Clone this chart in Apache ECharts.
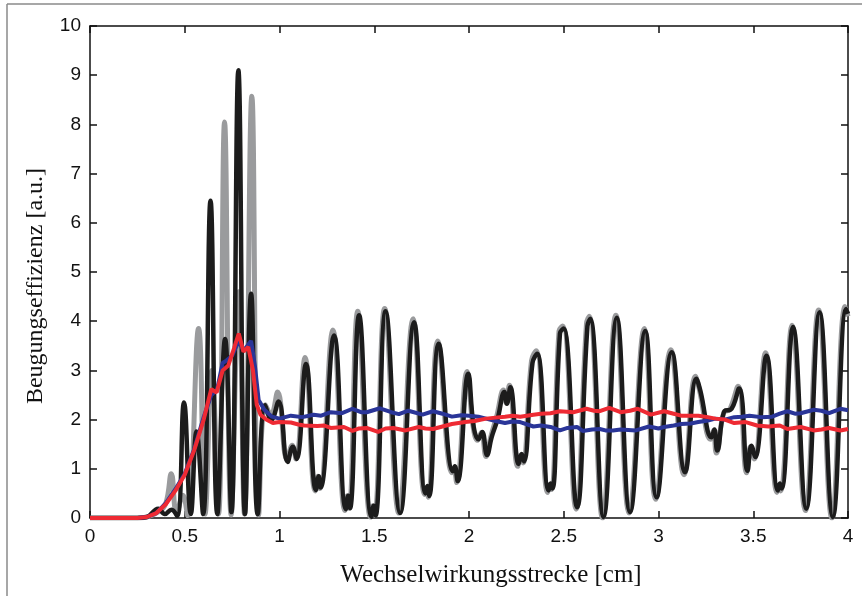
<!DOCTYPE html>
<html>
<head>
<meta charset="utf-8">
<script src="https://cdn.jsdelivr.net/npm/echarts@6/dist/echarts.min.js"></script>
<style>
  html, body { margin: 0; padding: 0; background: #fff; }
  #main { width: 862px; height: 596px; }
</style>
</head>
<body>
<div id="main"></div>
<script>
// values, [x in cm, efficiency]
var xTicks = [0, 0.5, 1, 1.5, 2, 2.5, 3, 3.5, 4];
var yTicks = [0, 1, 2, 3, 4, 5, 6, 7, 8, 9, 10];

var grayCurve = [
  [0, 0], [0.25, 0], [0.3, 0.02], [0.36, 0.12], [0.4, 0.3], [0.429, 0.9], [0.457, 0.1],
  [0.49, 0.46], [0.515, 0.05], [0.573, 3.85], [0.607, 0.08], [0.643, 3.0], [0.678, 0.08],
  [0.71, 8.05], [0.745, 0.06], [0.785, 4.6], [0.815, 0.08], [0.854, 8.57], [0.89, 0.06],
  [0.925, 2.3], [0.955, 2.1], [0.99, 2.56], [1.04, 1.18], [1.067, 1.48], [1.087, 1.2],
  [1.135, 3.26], [1.188, 0.55], [1.203, 0.85], [1.213, 0.6], [1.282, 3.82], [1.345, 0.15],
  [1.357, 0.45], [1.367, 0.2], [1.413, 4.2], [1.48, 0.02], [1.492, 0.25], [1.502, 0.05],
  [1.555, 4.26], [1.63, 0.1], [1.705, 4.05], [1.765, 0.48], [1.775, 0.62], [1.785, 0.42],
  [1.835, 3.6], [1.91, 0.92], [1.92, 1.02], [1.935, 0.72], [1.99, 2.98], [2.02, 1.9],
  [2.045, 1.58], [2.065, 1.74], [2.09, 1.25], [2.115, 1.65], [2.145, 2.05], [2.182, 2.6],
  [2.195, 2.35], [2.213, 2.7], [2.257, 1.05], [2.273, 1.28], [2.285, 1.12], [2.33, 3.2],
  [2.355, 3.4], [2.415, 0.52], [2.425, 0.68], [2.435, 0.58], [2.475, 3.8], [2.495, 3.9],
  [2.565, 0.18], [2.62, 3.95], [2.635, 4.1], [2.705, 0.0], [2.775, 4.12], [2.845, 0.1],
  [2.925, 3.85], [2.985, 0.38], [3.065, 3.42], [3.135, 0.88], [3.195, 2.88], [3.215, 2.62],
  [3.275, 1.6], [3.29, 1.78], [3.305, 1.32], [3.345, 2.15], [3.375, 2.2], [3.42, 2.68],
  [3.465, 0.92], [3.485, 1.45], [3.505, 1.2], [3.565, 3.36], [3.625, 0.52], [3.635, 0.66],
  [3.645, 0.55], [3.705, 3.92], [3.775, 0.15], [3.845, 4.23], [3.915, 0.0], [3.985, 4.3],
  [4.0, 4.1]
];

var blackCurve = [
  [0, 0], [0.25, 0], [0.3, 0.02], [0.36, 0.19], [0.395, 0.08], [0.43, 0.17], [0.46, 0.04],
  [0.496, 2.35], [0.532, 0.08], [0.562, 1.76], [0.597, 0.08], [0.636, 6.45], [0.672, 0.08],
  [0.713, 3.64], [0.746, 0.12], [0.783, 9.1], [0.818, 0.08], [0.85, 4.56], [0.885, 0.08],
  [0.924, 2.29], [0.957, 2.0], [0.995, 2.37], [1.043, 1.14], [1.07, 1.45], [1.09, 1.2],
  [1.14, 3.13], [1.192, 0.57], [1.207, 0.85], [1.217, 0.62], [1.288, 3.71], [1.35, 0.18],
  [1.362, 0.45], [1.372, 0.2], [1.42, 4.12], [1.485, 0.02], [1.497, 0.25], [1.507, 0.05],
  [1.56, 4.2], [1.637, 0.1], [1.71, 3.98], [1.77, 0.5], [1.78, 0.65], [1.79, 0.45],
  [1.84, 3.54], [1.915, 0.95], [1.925, 1.05], [1.94, 0.75], [1.996, 2.93], [2.025, 1.85],
  [2.05, 1.6], [2.07, 1.75], [2.095, 1.28], [2.12, 1.65], [2.15, 2.0], [2.187, 2.56],
  [2.2, 2.32], [2.218, 2.66], [2.262, 1.1], [2.278, 1.3], [2.29, 1.15], [2.335, 3.15],
  [2.36, 3.34], [2.42, 0.56], [2.43, 0.7], [2.44, 0.6], [2.48, 3.75], [2.5, 3.85],
  [2.57, 0.22], [2.625, 3.9], [2.64, 4.05], [2.71, 0.02], [2.78, 4.07], [2.85, 0.12],
  [2.93, 3.8], [2.99, 0.42], [3.07, 3.37], [3.14, 0.93], [3.2, 2.83], [3.22, 2.6],
  [3.28, 1.64], [3.295, 1.8], [3.31, 1.37], [3.35, 2.18], [3.38, 2.2], [3.425, 2.63],
  [3.47, 0.96], [3.49, 1.47], [3.51, 1.24], [3.57, 3.3], [3.63, 0.56], [3.64, 0.7],
  [3.65, 0.6], [3.71, 3.88], [3.78, 0.19], [3.85, 4.18], [3.92, 0.02], [3.99, 4.25],
  [4.0, 4.15]
];

var blueCurve = [
  [0, 0], [0.25, 0], [0.3, 0.02], [0.35, 0.1], [0.4, 0.3], [0.45, 0.58], [0.5, 0.9],
  [0.55, 1.4], [0.6, 2.05], [0.64, 2.5], [0.67, 2.6], [0.7, 3.15], [0.72, 3.2], [0.75, 3.3],
  [0.785, 3.6], [0.81, 3.4], [0.85, 3.6], [0.87, 3.1], [0.89, 2.4], [0.92, 2.2], [0.96, 2.06],
  [1.0, 2.02], [1.06, 2.08], [1.12, 2.05], [1.18, 2.1], [1.22, 2.08], [1.27, 2.15],
  [1.33, 2.13], [1.385, 2.22], [1.43, 2.15], [1.46, 2.15], [1.53, 2.23], [1.59, 2.15],
  [1.63, 2.11], [1.68, 2.18], [1.755, 2.1], [1.81, 2.17], [1.86, 2.12], [1.91, 2.06],
  [1.96, 2.09], [2.0, 2.08], [2.05, 2.06], [2.09, 2.02], [2.14, 1.97], [2.19, 1.93],
  [2.23, 1.96], [2.27, 1.95], [2.34, 1.86], [2.38, 1.88], [2.43, 1.85], [2.48, 1.78],
  [2.52, 1.83], [2.57, 1.85], [2.6, 1.77], [2.65, 1.8], [2.69, 1.81], [2.72, 1.78],
  [2.76, 1.78], [2.8, 1.8], [2.88, 1.78], [2.95, 1.86], [3.0, 1.82], [3.03, 1.85],
  [3.08, 1.88], [3.12, 1.91], [3.17, 1.92], [3.21, 1.95], [3.26, 1.98], [3.3, 2.02],
  [3.35, 2.0], [3.4, 2.05], [3.44, 2.06], [3.48, 2.08], [3.54, 2.05], [3.6, 2.06],
  [3.64, 2.12], [3.68, 2.17], [3.72, 2.12], [3.75, 2.13], [3.82, 2.2], [3.86, 2.18],
  [3.9, 2.13], [3.96, 2.22], [4.0, 2.19]
];

var redCurve = [
  [0, 0], [0.25, 0], [0.3, 0.02], [0.35, 0.1], [0.4, 0.28], [0.45, 0.55], [0.5, 0.88],
  [0.55, 1.38], [0.6, 2.0], [0.64, 2.62], [0.668, 2.55], [0.7, 3.0], [0.73, 3.1],
  [0.76, 3.45], [0.785, 3.75], [0.81, 3.38], [0.835, 3.48], [0.86, 3.0], [0.88, 2.3],
  [0.9, 2.1], [0.93, 2.0], [0.965, 1.93], [1.0, 1.95], [1.06, 1.94], [1.1, 1.9],
  [1.13, 1.88], [1.2, 1.87], [1.236, 1.88], [1.27, 1.83], [1.34, 1.85], [1.385, 1.77],
  [1.42, 1.82], [1.46, 1.83], [1.52, 1.75], [1.56, 1.82], [1.6, 1.83], [1.665, 1.78],
  [1.735, 1.85], [1.77, 1.82], [1.81, 1.81], [1.86, 1.86], [1.91, 1.91], [1.98, 1.95],
  [2.03, 1.97], [2.09, 2.02], [2.14, 2.04], [2.19, 2.06], [2.23, 2.08], [2.27, 2.06],
  [2.34, 2.1], [2.38, 2.12], [2.43, 2.13], [2.48, 2.17], [2.55, 2.15], [2.62, 2.22],
  [2.66, 2.18], [2.69, 2.17], [2.74, 2.24], [2.8, 2.15], [2.85, 2.18], [2.89, 2.22],
  [2.96, 2.1], [3.03, 2.17], [3.08, 2.12], [3.12, 2.08], [3.21, 2.08], [3.26, 2.05],
  [3.3, 2.02], [3.35, 2.0], [3.4, 1.93], [3.46, 1.95], [3.52, 1.88], [3.58, 1.86],
  [3.64, 1.88], [3.68, 1.81], [3.75, 1.85], [3.82, 1.78], [3.86, 1.8], [3.9, 1.83],
  [3.96, 1.78], [4.0, 1.81]
];

var chartDom = document.getElementById('main');
var myChart = echarts.init(chartDom);
var option;

var tickFont = { color: '#111', fontSize: 19, fontFamily: 'Liberation Sans' };
var axisLineStyle = { color: '#111', width: 1.5 };

function valueAxis(pos, ticks, showLabel) {
  return {
    type: 'value',
    position: pos,
    min: ticks[0],
    max: ticks[ticks.length - 1],
    interval: ticks[1] - ticks[0],
    axisLine: { show: true, onZero: false, lineStyle: axisLineStyle },
    axisTick: { show: true, inside: true, length: 7, lineStyle: axisLineStyle },
    axisLabel: { show: showLabel, margin: 9, textStyle: tickFont },
    splitLine: { show: false }
  };
}

option = {
  animation: false,
  backgroundColor: '#fff',
  grid: { left: 90, right: 14, top: 26, bottom: 78, containLabel: false },
  xAxis: [valueAxis('bottom', xTicks, true), valueAxis('top', xTicks, false)],
  yAxis: [valueAxis('left', yTicks, true), valueAxis('right', yTicks, false)],
  graphic: [
    { type: 'line', shape: { x1: 7, y1: 4, x2: 862, y2: 4 }, style: { stroke: '#8a8a8a', lineWidth: 1.5 } },
    { type: 'line', shape: { x1: 7, y1: 4, x2: 7, y2: 596 }, style: { stroke: '#8a8a8a', lineWidth: 1.5 } },
    {
      type: 'text', x: 36, y: 286, rotation: Math.PI / 2,
      style: {
        text: 'Beugungseffizienz [a.u.]', fill: '#111',
        font: '24px "Liberation Serif"', align: 'center', verticalAlign: 'middle'
      }
    },
    {
      type: 'text', x: 491, y: 575,
      style: {
        text: 'Wechselwirkungsstrecke [cm]', fill: '#111',
        font: '25px "Liberation Serif"', align: 'center', verticalAlign: 'middle'
      }
    }
  ],
  series: [
    {
      name: 'grau', type: 'line', data: grayCurve, smooth: 0.45, showSymbol: false,
      lineStyle: { color: '#9a9b9d', width: 5 }
    },
    {
      name: 'schwarz', type: 'line', data: blackCurve, smooth: 0.45, showSymbol: false,
      lineStyle: { color: '#1c1c1c', width: 4.5 }
    },
    {
      name: 'blau', type: 'line', data: blueCurve, showSymbol: false,
      lineStyle: { color: '#2a3598', width: 4 }
    },
    {
      name: 'rot', type: 'line', data: redCurve, showSymbol: false,
      lineStyle: { color: '#ee2a33', width: 4 }
    }
  ]
};

option && myChart.setOption(option);
</script>
</body>
</html>
